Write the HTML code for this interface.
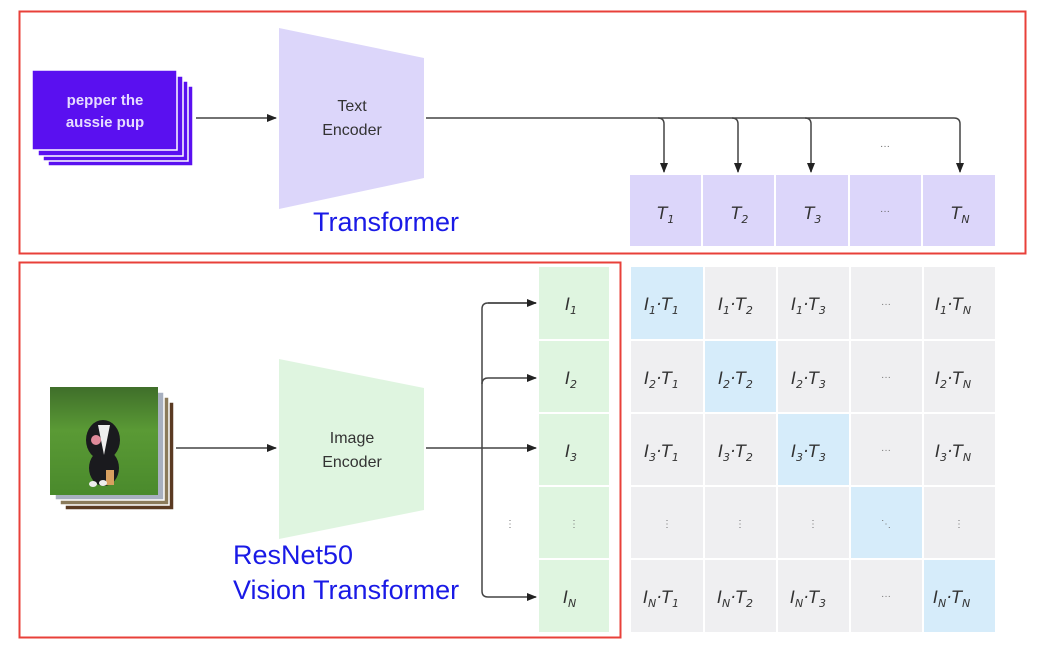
<!DOCTYPE html>
<html><head><meta charset="utf-8"><style>
html,body{margin:0;padding:0;background:#fff;}
svg{display:block;}
.c{font-family:"Liberation Sans",sans-serif;}
.m{font-family:"DejaVu Sans","Liberation Sans",sans-serif;font-style:italic;font-size:17px;fill:#333;}
.s{font-size:11px;}
</style></head><body>
<svg width="1038" height="652" viewBox="0 0 1038 652" xmlns="http://www.w3.org/2000/svg">
<defs>
<marker id="a" markerWidth="10" markerHeight="8" refX="9" refY="4" orient="auto" markerUnits="userSpaceOnUse">
<path d="M0,0 L10,4 L0,8 z" fill="#222"/></marker>
<linearGradient id="g" x1="0" y1="0" x2="0" y2="1"><stop offset="0" stop-color="#3f6e2a"/><stop offset="0.4" stop-color="#5a9a35"/><stop offset="1" stop-color="#4a8a2c"/></linearGradient>
</defs>
<rect x="19.5" y="11.5" width="1006" height="242" fill="none" stroke="#e8403a" stroke-width="2"/>
<rect x="19.5" y="262.5" width="601" height="375" fill="none" stroke="#e8403a" stroke-width="2"/>

<rect x="48" y="86" width="145" height="80" fill="#5a10f0" stroke="#fff" stroke-width="1.5"/>
<rect x="43" y="81" width="145" height="80" fill="#5a10f0" stroke="#fff" stroke-width="1.5"/>
<rect x="38" y="76" width="145" height="80" fill="#5a10f0" stroke="#fff" stroke-width="1.5"/>
<rect x="32" y="70" width="145" height="80" fill="#5a10f0" stroke="#fff" stroke-width="1.5"/>
<text class="c" x="105" y="105" font-size="15" font-weight="bold" fill="#e6dcff" text-anchor="middle">pepper the</text>
<text class="c" x="105" y="127" font-size="15" font-weight="bold" fill="#e6dcff" text-anchor="middle">aussie pup</text>
<line x1="196" y1="118" x2="276" y2="118" stroke="#444" stroke-width="1.5" marker-end="url(#a)"/>

<polygon points="279,28 424,58 424,178 279,209" fill="#dcd6fa"/>
<text class="c" x="352" y="111" font-size="16" fill="#333" text-anchor="middle">Text</text>
<text class="c" x="352" y="135" font-size="16" fill="#333" text-anchor="middle">Encoder</text>
<text class="c" x="313" y="231" font-size="27" fill="#1a1ae6">Transformer</text>

<path d="M426,118 H954 Q960,118 960,124 V172" fill="none" stroke="#444" stroke-width="1.5" marker-end="url(#a)"/>
<path d="M658,118 Q664,118 664,124 V172" fill="none" stroke="#444" stroke-width="1.5" marker-end="url(#a)"/>
<path d="M732,118 Q738,118 738,124 V172" fill="none" stroke="#444" stroke-width="1.5" marker-end="url(#a)"/>
<path d="M805,118 Q811,118 811,124 V172" fill="none" stroke="#444" stroke-width="1.5" marker-end="url(#a)"/>
<text class="c" x="885" y="149" font-size="10" fill="#666" text-anchor="middle">···</text>

<g fill="#dcd6fa">
<rect x="630" y="175" width="71" height="71"/><rect x="703" y="175" width="71" height="71"/><rect x="776" y="175" width="72" height="71"/><rect x="850" y="175" width="71" height="71"/><rect x="923" y="175" width="72" height="71"/>
</g>
<text class="m" x="657" y="219">T<tspan class="s" dy="4">1</tspan></text>
<text class="m" x="731" y="219">T<tspan class="s" dy="4">2</tspan></text>
<text class="m" x="804" y="219">T<tspan class="s" dy="4">3</tspan></text>
<text class="c" x="885" y="214" font-size="10" fill="#666" text-anchor="middle">···</text>
<text class="m" x="951" y="219">T<tspan class="s" dy="4">N</tspan></text>

<rect x="65" y="402" width="109" height="108" fill="#5a3a22" stroke="#fff" stroke-width="1.5"/>
<rect x="60" y="397" width="109" height="108" fill="#8a7a5a" stroke="#fff" stroke-width="1.5"/>
<rect x="55" y="392" width="109" height="108" fill="#a8b0c0" stroke="#fff" stroke-width="1.5"/>
<rect x="50" y="387" width="108" height="108" fill="url(#g)"/>
<ellipse cx="103" cy="440" rx="17" ry="20" fill="#1a1a1e"/>
<ellipse cx="104" cy="468" rx="15" ry="18" fill="#1a1a1e"/>
<path d="M98,425 L104,455 L110,425z" fill="#eee"/>
<ellipse cx="96" cy="440" rx="5" ry="5" fill="#e08a9a"/>
<rect x="106" y="470" width="8" height="15" fill="#d8a060"/>
<ellipse cx="93" cy="484" rx="4" ry="3" fill="#eee"/><ellipse cx="103" cy="483" rx="4" ry="3" fill="#eee"/>
<line x1="176" y1="448" x2="276" y2="448" stroke="#444" stroke-width="1.5" marker-end="url(#a)"/>

<polygon points="279,359 424,388 424,510 279,539" fill="#dff5e0"/>
<text class="c" x="352" y="443" font-size="16" fill="#333" text-anchor="middle">Image</text>
<text class="c" x="352" y="467" font-size="16" fill="#333" text-anchor="middle">Encoder</text>
<text class="c" x="233" y="564" font-size="27" fill="#1a1ae6">ResNet50</text>
<text class="c" x="233" y="599" font-size="27" fill="#1a1ae6">Vision Transformer</text>

<line x1="426" y1="448" x2="536" y2="448" stroke="#444" stroke-width="1.5" marker-end="url(#a)"/>
<path d="M536,303 H488 Q482,303 482,309 V591 Q482,597 488,597 H536" fill="none" stroke="#444" stroke-width="1.5" marker-end="url(#a)"/>
<path d="M488,303 H536" fill="none" stroke="#444" stroke-width="1.5" marker-end="url(#a)"/>
<path d="M482,384 Q482,378 488,378 H536" fill="none" stroke="#444" stroke-width="1.5" marker-end="url(#a)"/>
<text class="c" x="510" y="527" font-size="10" fill="#777" text-anchor="middle">⋮</text>

<g fill="#dff5e0">
<rect x="539" y="267" width="70" height="72"/><rect x="539" y="341" width="70" height="71"/><rect x="539" y="414" width="70" height="71"/><rect x="539" y="487" width="70" height="71"/><rect x="539" y="560" width="70" height="72"/>
</g>
<text class="m" x="565" y="310">I<tspan class="s" dy="4">1</tspan></text>
<text class="m" x="565" y="384">I<tspan class="s" dy="4">2</tspan></text>
<text class="m" x="565" y="457">I<tspan class="s" dy="4">3</tspan></text>
<text class="c" x="574" y="527" font-size="10" fill="#777" text-anchor="middle">⋮</text>
<text class="m" x="563" y="603">I<tspan class="s" dy="4">N</tspan></text>

<g fill="#efeff1">
<rect x="631" y="267" width="72" height="72" fill="#d6ecfa"/><rect x="705" y="267" width="71" height="72"/><rect x="778" y="267" width="71" height="72"/><rect x="851" y="267" width="71" height="72"/><rect x="924" y="267" width="71" height="72"/>
<rect x="631" y="341" width="72" height="71"/><rect x="705" y="341" width="71" height="71" fill="#d6ecfa"/><rect x="778" y="341" width="71" height="71"/><rect x="851" y="341" width="71" height="71"/><rect x="924" y="341" width="71" height="71"/>
<rect x="631" y="414" width="72" height="71"/><rect x="705" y="414" width="71" height="71"/><rect x="778" y="414" width="71" height="71" fill="#d6ecfa"/><rect x="851" y="414" width="71" height="71"/><rect x="924" y="414" width="71" height="71"/>
<rect x="631" y="487" width="72" height="71"/><rect x="705" y="487" width="71" height="71"/><rect x="778" y="487" width="71" height="71"/><rect x="851" y="487" width="71" height="71" fill="#d6ecfa"/><rect x="924" y="487" width="71" height="71"/>
<rect x="631" y="560" width="72" height="72"/><rect x="705" y="560" width="71" height="72"/><rect x="778" y="560" width="71" height="72"/><rect x="851" y="560" width="71" height="72"/><rect x="924" y="560" width="71" height="72" fill="#d6ecfa"/>
</g>
<g class="m">
<text x="644" y="310">I<tspan class="s" dy="4">1</tspan><tspan dy="-4">·T</tspan><tspan class="s" dy="4">1</tspan></text>
<text x="718" y="310">I<tspan class="s" dy="4">1</tspan><tspan dy="-4">·T</tspan><tspan class="s" dy="4">2</tspan></text>
<text x="791" y="310">I<tspan class="s" dy="4">1</tspan><tspan dy="-4">·T</tspan><tspan class="s" dy="4">3</tspan></text>
<text x="935" y="310">I<tspan class="s" dy="4">1</tspan><tspan dy="-4">·T</tspan><tspan class="s" dy="4">N</tspan></text>
<text x="644" y="384">I<tspan class="s" dy="4">2</tspan><tspan dy="-4">·T</tspan><tspan class="s" dy="4">1</tspan></text>
<text x="718" y="384">I<tspan class="s" dy="4">2</tspan><tspan dy="-4">·T</tspan><tspan class="s" dy="4">2</tspan></text>
<text x="791" y="384">I<tspan class="s" dy="4">2</tspan><tspan dy="-4">·T</tspan><tspan class="s" dy="4">3</tspan></text>
<text x="935" y="384">I<tspan class="s" dy="4">2</tspan><tspan dy="-4">·T</tspan><tspan class="s" dy="4">N</tspan></text>
<text x="644" y="457">I<tspan class="s" dy="4">3</tspan><tspan dy="-4">·T</tspan><tspan class="s" dy="4">1</tspan></text>
<text x="718" y="457">I<tspan class="s" dy="4">3</tspan><tspan dy="-4">·T</tspan><tspan class="s" dy="4">2</tspan></text>
<text x="791" y="457">I<tspan class="s" dy="4">3</tspan><tspan dy="-4">·T</tspan><tspan class="s" dy="4">3</tspan></text>
<text x="935" y="457">I<tspan class="s" dy="4">3</tspan><tspan dy="-4">·T</tspan><tspan class="s" dy="4">N</tspan></text>
<text x="643" y="603">I<tspan class="s" dy="4">N</tspan><tspan dy="-4">·T</tspan><tspan class="s" dy="4">1</tspan></text>
<text x="717" y="603">I<tspan class="s" dy="4">N</tspan><tspan dy="-4">·T</tspan><tspan class="s" dy="4">2</tspan></text>
<text x="790" y="603">I<tspan class="s" dy="4">N</tspan><tspan dy="-4">·T</tspan><tspan class="s" dy="4">3</tspan></text>
<text x="933" y="603">I<tspan class="s" dy="4">N</tspan><tspan dy="-4">·T</tspan><tspan class="s" dy="4">N</tspan></text>
</g>
<g class="c" font-size="10" fill="#777" text-anchor="middle">
<text x="886" y="307">···</text><text x="886" y="380">···</text><text x="886" y="453">···</text><text x="886" y="599">···</text>
<text x="667" y="527">⋮</text><text x="740" y="527">⋮</text><text x="813" y="527">⋮</text><text x="886" y="527">⋱</text><text x="959" y="527">⋮</text>
</g>
</svg>
</body></html>
